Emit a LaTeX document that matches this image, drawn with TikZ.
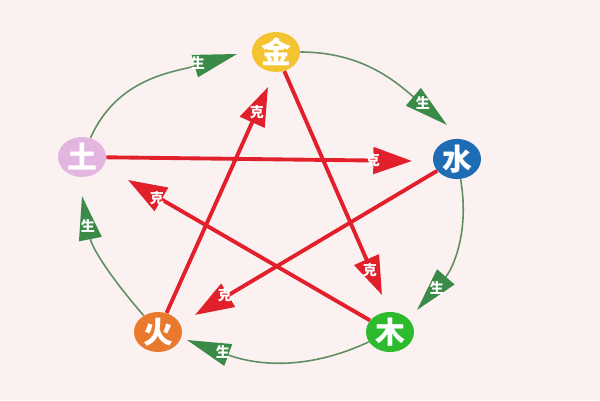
\documentclass[tikz,border=0pt]{standalone}
\usepackage{fontspec}
\newfontfamily\cjk{Noto Sans CJK SC}
\usetikzlibrary{arrows.meta,shapes.geometric}
\definecolor{bgpink}{HTML}{FCF1F1}
\definecolor{jincol}{HTML}{F3C332}
\definecolor{shuicol}{HTML}{1E6DB4}
\definecolor{mucol}{HTML}{2DBA2D}
\definecolor{huocol}{HTML}{E9792C}
\definecolor{tucol}{HTML}{E2B6DE}
\definecolor{kered}{HTML}{E2202C}
\definecolor{shengline}{HTML}{5E8E62}
\definecolor{shengdark}{HTML}{3A8A48}
\begin{document}
\begin{tikzpicture}[x=0.02cm, y=0.02cm,
  elem/.style={ellipse, inner sep=0pt, minimum width=0.96cm, minimum height=0.8cm, text=white, font=\cjk\bfseries\fontsize{17}{17}\selectfont},
  ke/.style={draw=kered, line width=2.2pt, -{Triangle[length=22pt,width=15pt]}},
  sheng/.style={draw=shengline, line width=0.9pt, -{Triangle[length=25pt,width=13pt,color=shengdark]}},
  tag/.style={text=white, inner sep=0pt, font=\cjk\bfseries\fontsize{8}{8}\selectfont}]

\fill[bgpink] (0,0) rectangle (600,400);
\useasboundingbox (0,0) rectangle (600,400);

\node[elem, fill=jincol] (jin) at (276,348) {金};
\node[elem, fill=shuicol] (shui) at (457,241) {水};
\node[elem, fill=mucol] (mu) at (390,68) {木};
\node[elem, fill=huocol] (huo) at (158,68) {火};
\node[elem, fill=tucol] (tu) at (82,243) {土};

\coordinate (gjin) at (237,346);
\coordinate (gshui) at (447,275);
\coordinate (gmu) at (417,90);
\coordinate (ghuo) at (187,60);
\coordinate (gtu) at (82,204);

\coordinate (rmu) at (382,105);
\coordinate (rtu) at (128,220);
\coordinate (rshui) at (412,239);
\coordinate (rhuo) at (195,85);
\coordinate (rjin) at (268,313);

\draw[sheng] (jin) to[out=0, in=140] (gshui);
\draw[sheng] (shui) to[out=280, in=49] (gmu);
\draw[sheng] (mu) to[out=205, in=340] (ghuo);
\draw[sheng] (huo) to[out=131, in=281] (gtu);
\draw[sheng] (tu) to[out=66, in=196] (gjin);

\draw[ke] (jin) -- (rmu);
\draw[ke] (mu) -- (rtu);
\draw[ke] (tu) -- (rshui);
\draw[ke] (shui) -- (rhuo);
\draw[ke] (huo) -- (rjin);

\node[tag] (k1) at (370,130) {克};
\node[tag] (k2) at (157,202) {克};
\node[tag] (k3) at (373,240) {克};
\node[tag] (k4) at (225,105) {克};
\node[tag] (k5) at (257,288) {克};

\node[tag] (s1) at (423,297) {生};
\node[tag] (s2) at (437,112) {生};
\node[tag] (s3) at (223,48) {生};
\node[tag] (s4) at (88,174) {生};
\node[tag] (s5) at (198,337) {生};
\end{tikzpicture}
\end{document}
